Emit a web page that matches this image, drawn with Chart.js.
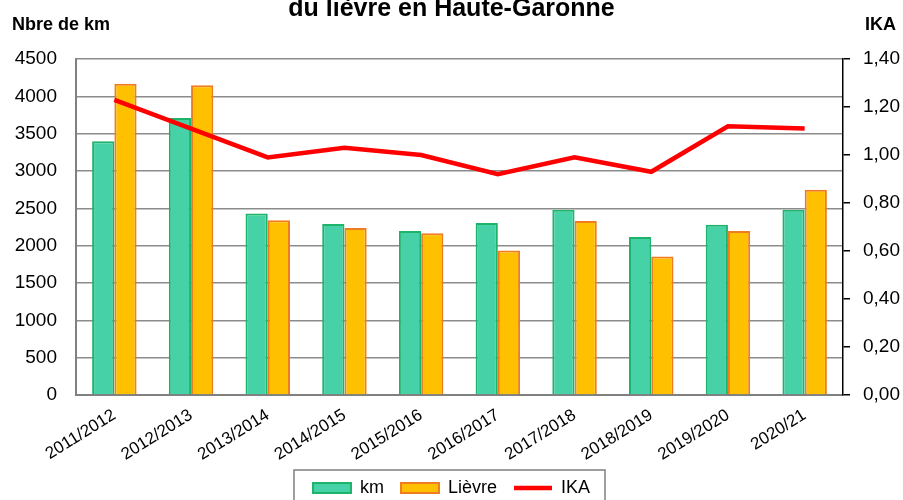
<!DOCTYPE html>
<html>
<head>
<meta charset="utf-8">
<script src="https://cdn.jsdelivr.net/npm/chart.js@4.4.1/dist/chart.umd.min.js"></script>
<style>
  body { margin: 0; background: #fff; }
</style>
</head>
<body>
<canvas id="Chart-1" width="903" height="500"></canvas>
<script>
var saisons = ["2011/2012","2012/2013","2013/2014","2014/2015","2015/2016",
               "2016/2017","2017/2018","2018/2019","2019/2020","2020/21"];
var kmValues = [3400,3710,2430,2290,2195,2305,2480,2115,2280,2480];
var lievreValues = [4170,4150,2340,2235,2165,1935,2330,1855,2195,2750];
var ikaValues = [1.23,1.11,0.99,1.03,1.00,0.92,0.99,0.93,1.12,1.11];

var fontFamily = "'Liberation Sans', Arial, sans-serif";
Chart.defaults.font.family = fontFamily;
Chart.defaults.color = "#000";

// titre et legendes d'axes dessines a la main (pas de place dans Chart.js pour ca)
var extras = {
  id: "extras",
  afterDraw: function(chart) {
    var ctx = chart.ctx;
    ctx.save();
    ctx.fillStyle = "#000";
    ctx.textBaseline = "alphabetic";
    ctx.font = "bold 25px " + fontFamily;
    ctx.textAlign = "center";
    ctx.fillText("du lièvre en Haute-Garonne", chart.width / 2, 15.5);
    ctx.font = "bold 18px " + fontFamily;
    ctx.textAlign = "left";
    ctx.fillText("Nbre de km", 12, 30);
    ctx.fillText("IKA", chart.chartArea.right + 22, 30);

    // cadre de la legende
    var boxes = chart.legend.legendHitBoxes;
    if (boxes && boxes.length) {
      var first = boxes[0], last = boxes[boxes.length - 1];
      ctx.strokeStyle = "#7f7f7f";
      ctx.lineWidth = 1.5;
      ctx.strokeRect(first.left - 19, first.top - 9,
                     last.left + last.width + 15 - (first.left - 19), 60);
    }
    ctx.restore();
  }
};

new Chart("Chart-1", {
  type: "bar",
  data: {
    labels: saisons,
    datasets: [{
      label: "km",
      data: kmValues,
      backgroundColor: "#47D1A6",
      borderColor: "#1DB36B",
      borderWidth: 2,
      pointStyle: "rect",
      yAxisID: "y",
      order: 2
    },{
      label: "Lièvre",
      data: lievreValues,
      backgroundColor: "#FFC000",
      borderColor: "#F07C22",
      borderWidth: 2,
      pointStyle: "rect",
      yAxisID: "y",
      order: 2
    },{
      type: "line",
      label: "IKA",
      data: ikaValues,
      borderColor: "#FF0000",
      backgroundColor: "#FF0000",
      borderWidth: 4.5,
      pointRadius: 0,
      pointStyle: "line",
      tension: 0,
      fill: false,
      yAxisID: "y2",
      order: 1
    }]
  },
  options: {
    responsive: false,
    animation: false,
    layout: { padding: { top: 59, left: 0, right: 0, bottom: -7 } },
    datasets: { bar: { categoryPercentage: 0.58, barPercentage: 1 } },
    plugins: {
      title: { display: false },
      tooltip: { enabled: false },
      legend: {
        position: "bottom",
        labels: {
          usePointStyle: true,
          pointStyleWidth: 38,
          boxHeight: 10,
          padding: 17,
          color: "#000",
          font: { size: 18 },
          sort: function(a, b) { return a.datasetIndex - b.datasetIndex; }
        }
      }
    },
    scales: {
      x: {
        grid: { display: false },
        border: { color: "#808080", width: 2 },
        ticks: { minRotation: 32, maxRotation: 32, font: { size: 17 }, color: "#000", padding: 2 },
        afterFit: function(s) { s.height = 67; }
      },
      y: {
        position: "left",
        min: 0, max: 4500,
        ticks: { stepSize: 500, font: { size: 19 }, color: "#000", padding: 19,
                 callback: function(v) { return String(v); } },
        grid: { color: "#8c8c8c", lineWidth: 1.5, drawTicks: false },
        border: { color: "#808080", width: 2 },
        afterFit: function(s) { s.width = 76; }
      },
      y2: {
        position: "right",
        min: 0, max: 1.4,
        ticks: { stepSize: 0.2, font: { size: 19 }, color: "#000", padding: 13,
                 callback: function(v) { return v.toFixed(2).replace(".", ","); } },
        grid: { drawOnChartArea: false, drawTicks: true, tickLength: 7, tickColor: "#000", lineWidth: 1.5 },
        border: { color: "#000", width: 1.5 },
        afterFit: function(s) { s.width = 60; }
      }
    }
  },
  plugins: [extras]
});
</script>
</body>
</html>
